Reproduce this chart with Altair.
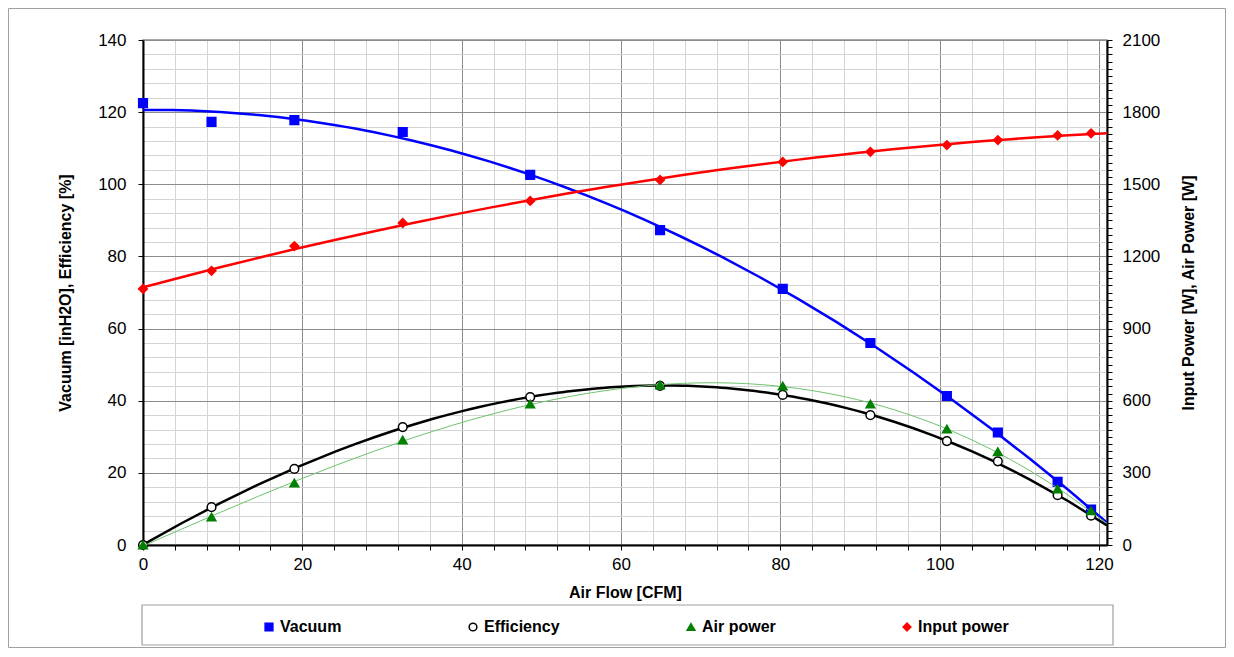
import altair as alt
import pandas as pd

# ---- data ----
flow = [0, 8.6, 19.0, 32.6, 48.6, 64.9, 80.3, 91.3, 100.9, 107.3, 114.8, 119.0]
vacuum = [122.5, 117.3, 117.8, 114.5, 102.6, 87.3, 71.0, 56.0, 41.3, 31.2, 17.5, 9.8]
efficiency = [0, 10.5, 21.1, 32.7, 41.0, 44.1, 41.6, 36.0, 28.8, 23.2, 13.8, 8.1]
air_power = [0, 116, 258, 437, 586, 665, 661, 586, 482, 388, 233, 142]
input_power = [1065, 1140, 1243, 1339, 1431, 1518, 1593, 1635, 1663, 1684, 1703, 1712]

series_names = ["Vacuum", "Efficiency", "Air power", "Input power"]
x_ticks = list(range(0, 121, 4))
left_ticks = list(range(0, 141, 4))
right_ticks = list(range(0, 2101, 30))

def long(name, vals):
    return pd.DataFrame({"flow": flow, "value": vals, "series": name})

left_df = pd.concat([long("Vacuum", vacuum), long("Efficiency", efficiency)])
right_df = pd.concat([long("Air power", air_power), long("Input power", input_power)])

W, H = 964, 505
TOTAL_W = 1218
TOTAL_H = 640

x_axis = alt.Axis(
    values=x_ticks, title="Air Flow [CFM]",
    labelExpr="datum.value % 20 === 0 ? datum.label : ''",
    labelOverlap=False, labelFlush=False, labelPadding=6,
    tickSize=5, tickColor="black",
    grid=True,
    gridColor={"condition": {"test": "datum.value % 20 === 0", "value": "#8c8c8c"}, "value": "#d4d4d4"},
    titleY=47, titleBaseline="middle",
)
left_axis = alt.Axis(
    values=left_ticks, title="Vacuum [inH2O], Efficiency [%]",
    labelExpr="datum.value % 20 === 0 ? datum.label : ''",
    labelOverlap=False, labelFlush=False, labelPadding=12,
    tickSize=5,
    tickColor={"condition": {"test": "datum.value % 20 === 0", "value": "black"}, "value": "transparent"},
    grid=True,
    gridColor={"condition": {"test": "datum.value % 20 === 0", "value": "#8c8c8c"}, "value": "#d4d4d4"},
    titleAngle=270, titleX=-78, titleY=H / 2, titleBaseline="middle", titleAlign="center",
)
right_axis = alt.Axis(
    values=right_ticks, title="Input Power [W], Air Power [W]", orient="right",
    format="d",
    labelExpr="datum.value % 300 === 0 ? datum.label : ''",
    labelOverlap=False, labelFlush=False, labelPadding=10,
    tickSize=5, tickColor="black", grid=False,
    titleAngle=270, titleX=81, titleY=H / 2, titleBaseline="middle", titleAlign="center",
)

X = alt.X("flow:Q", scale=alt.Scale(domain=[0, 121], nice=False), axis=x_axis)
YL = alt.Y("value:Q", scale=alt.Scale(domain=[0, 140], nice=False), axis=left_axis)
YR = alt.Y("value:Q", scale=alt.Scale(domain=[0, 2100], nice=False), axis=right_axis)

legend = alt.Legend(title=None)
shape_enc = alt.Shape("series:N", legend=legend, sort=series_names,
                      scale=alt.Scale(domain=series_names,
                                      range=["square", "circle", "triangle-up", "diamond"]))
fill_enc = alt.Fill("series:N", legend=legend, sort=series_names,
                    scale=alt.Scale(domain=series_names,
                                    range=["#0000ff", "white", "#008000", "#ff0000"]))
stroke_enc = alt.Stroke("series:N", legend=legend, sort=series_names,
                        scale=alt.Scale(domain=series_names,
                                        range=["#0000ff", "black", "#008000", "#ff0000"]))

def trend(df_chart, name, order, color, width, y):
    return df_chart.transform_filter(alt.datum.series == name).transform_regression(
        "flow", "value", method="poly", order=order, extent=[0, 121]
    ).mark_line(color=color, strokeWidth=width, clip=True).encode(x=X, y=y)

base_l = alt.Chart(left_df)
base_r = alt.Chart(right_df)

left = alt.layer(
    trend(base_l, "Vacuum", 2, "#0000ff", 2.5, YL),
    trend(base_l, "Efficiency", 3, "black", 2.5, YL),
    base_l.mark_point(size=75, opacity=1, strokeWidth=1.5).encode(
        x=X, y=YL, shape=shape_enc, fill=fill_enc, stroke=stroke_enc),
)
right = alt.layer(
    trend(base_r, "Air power", 3, "#6cc46c", 1, YR),
    trend(base_r, "Input power", 2, "#ff0000", 2.5, YR),
    base_r.mark_point(size=75, opacity=1, strokeWidth=1.5).encode(
        x=X, y=YR, shape=shape_enc, fill=fill_enc, stroke=stroke_enc),
)

one = alt.Data(values=[{}])
frame = alt.Chart(one).mark_rect(fill="white", fillOpacity=0, stroke="#a0a0a0", strokeWidth=1).encode(
    x=alt.value(-134.5), x2=alt.value(TOTAL_W - 135.5), y=alt.value(-31.5), y2=alt.value(TOTAL_H - 32.5))
legend_box = alt.Chart(one).mark_rect(fill="white", fillOpacity=0, stroke="#a0a0a0", strokeWidth=1.2).encode(
    x=alt.value(-1), x2=alt.value(970), y=alt.value(565), y2=alt.value(605))

chart = alt.layer(frame, legend_box, left, right).resolve_scale(y="independent").properties(
    width=W, height=H,
    padding={"left": 135, "top": 32, "right": TOTAL_W - 135 - W, "bottom": TOTAL_H - 32 - H},
    autosize=alt.AutoSizeParams(type="none"),
    background="white",
).configure(font="Liberation Sans").configure_view(
    stroke="#8c8c8c", strokeWidth=1.5
).configure_axis(
    labelFontSize=17, labelColor="black", labelFont="Liberation Sans",
    titleFontSize=16, titleFontWeight="bold", titleColor="black", titleFont="Liberation Sans",
    domainColor="black", domainWidth=2, gridWidth=1,
).configure_legend(
    orient="none", legendX=118, legendY=579, direction="horizontal", columns=4,
    columnPadding=123, padding=0, labelFontSize=16, labelFontWeight="bold",
    labelColor="black", labelFont="Liberation Sans", symbolSize=60, symbolStrokeWidth=1.5,
    labelOffset=3,
)

chart.save("out.html", embed_options={"renderer": "svg", "actions": False})
